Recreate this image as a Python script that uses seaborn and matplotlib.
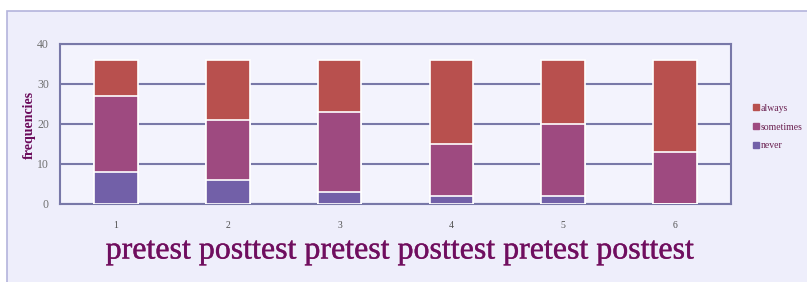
import matplotlib.pyplot as plt
import matplotlib.patches as mpatches
import matplotlib.patheffects as pe
import numpy as np
import pandas as pd
import seaborn as sns

# data
groups = ["1", "2", "3", "4", "5", "6"]
never = [8, 6, 3, 2, 2, 0]
sometimes = [19, 15, 20, 13, 18, 13]
always = [9, 15, 13, 21, 16, 23]
xlabel_text = "pretest posttest pretest posttest pretest posttest"

COL_ALWAYS = "#B8504E"
COL_SOMETIMES = "#9E4A80"
COL_NEVER = "#7260A8"
GRID = "#7878A8"

sns.set_style("white")
plt.rcParams["font.family"] = ["Liberation Serif", "DejaVu Serif"]

df = pd.DataFrame({"group": groups, "never": never,
                   "sometimes": sometimes, "always": always})
df["low"] = df["never"]
df["mid"] = df["never"] + df["sometimes"]
df["top"] = df["mid"] + df["always"]

fig = plt.figure(figsize=(8.07, 2.82), dpi=100, facecolor="white")
# lavender panel behind the chart (only top and left border visible)
fig.patches.append(mpatches.Rectangle((7 / 807, -0.1), 1.0, 1.1 - 11 / 282,
                                      transform=fig.transFigure, facecolor="#EEEEFB",
                                      edgecolor="#B4B4DC", linewidth=1.2, zorder=-10))
ax = fig.add_axes([60 / 807, 1 - 204 / 282, 671 / 807, 160 / 282])
ax.set_facecolor("#F3F3FD")

# stacked bars: draw cumulative totals back to front
for col, c in [("top", COL_ALWAYS), ("mid", COL_SOMETIMES), ("low", COL_NEVER)]:
    sns.barplot(data=df, x="group", y=col, color=c, width=0.39,
                edgecolor="white", linewidth=1.2, saturation=1, ax=ax, zorder=3)

ax.set_ylim(0, 40)
ax.set_yticks([0, 10, 20, 30, 40])
ax.set_xlim(-0.5, 5.5)
ax.yaxis.grid(True, color=GRID, linewidth=1.5)
ax.set_axisbelow(True)
for s in ax.spines.values():
    s.set_visible(True)
    s.set_color(GRID)
    s.set_linewidth(1.5)

ax.tick_params(axis="y", length=0, labelsize=8.5, labelcolor="#707070", pad=8)
ax.tick_params(axis="x", which="major", length=0, labelsize=7, labelcolor="#505050", pad=12)
ax.set_xticks(np.arange(0.5, 5.5, 1.0), minor=True)
ax.tick_params(axis="x", which="minor", direction="in", length=3, color=GRID, width=1)

ax.set_xlabel("")
ax.set_ylabel("")
fig.text(29 / 807, 1 - 125 / 282, "frequencies", rotation=90, ha="center", va="center",
         fontsize=10, fontweight="bold", color="#6A0A5A")

fig.text(400 / 807, 1 - 251 / 282, xlabel_text, ha="center", va="center",
         fontsize=23, color="#6E0E60",
         path_effects=[pe.withStroke(linewidth=0.3, foreground="#8A2060")])

handles = [mpatches.Patch(color=COL_ALWAYS, label="always"),
           mpatches.Patch(color=COL_SOMETIMES, label="sometimes"),
           mpatches.Patch(color=COL_NEVER, label="never")]
fig.legend(handles=handles, loc="center left", bbox_to_anchor=(744 / 807, 1 - 127 / 282),
           frameon=False, fontsize=7, handlelength=0.6, handleheight=0.6,
           handletextpad=0.2, labelspacing=1.0, labelcolor="#6A2050")

fig.savefig("out.png", dpi=100, facecolor=fig.get_facecolor())
